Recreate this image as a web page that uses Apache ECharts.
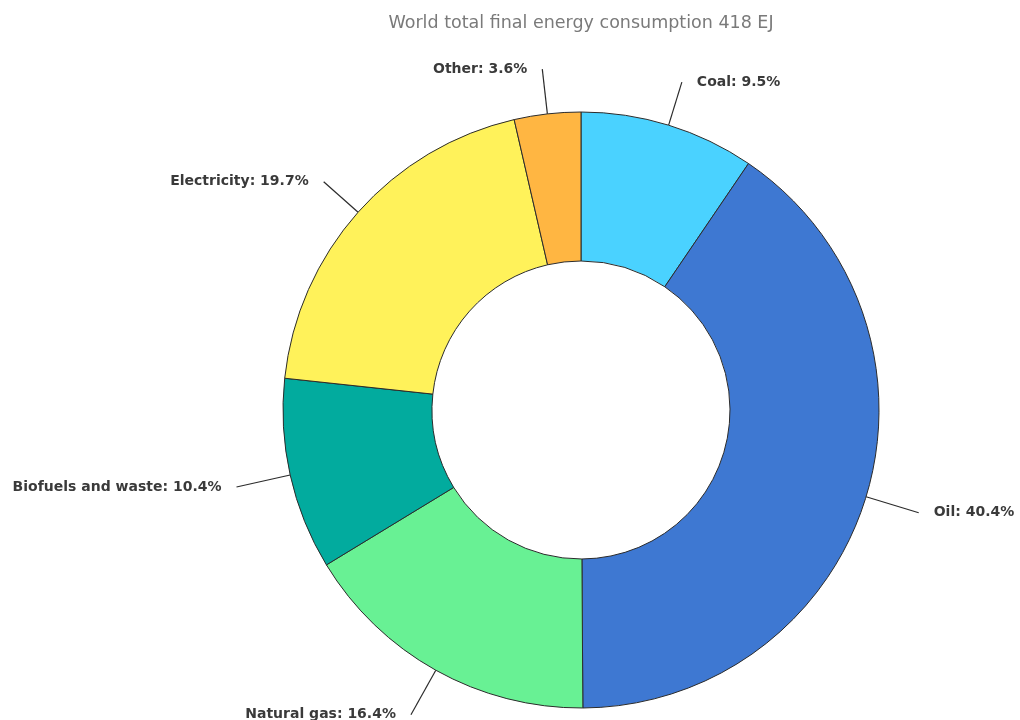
<!DOCTYPE html>
<html>
<head>
<meta charset="utf-8">
<script src="https://cdn.jsdelivr.net/npm/echarts@6/dist/echarts.min.js"></script>
<style>
  html, body { margin: 0; padding: 0; background: #ffffff; }
  #chart { width: 1020px; height: 720px; }
</style>
</head>
<body>
<div id="chart"></div>
<script>
// Shares of world total final energy consumption (%), clockwise from the top
const categories = ['Coal', 'Oil', 'Natural gas', 'Biofuels and waste', 'Electricity', 'Other'];
const shares = [9.5, 40.4, 16.4, 10.4, 19.7, 3.6];
const sliceColors = ['#4AD2FF', '#3E78D2', '#68F194', '#02AB9E', '#FFF25A', '#FFB642'];
const titleText = 'World total final energy consumption 418 EJ';

// Leader line length per slice (px), same order as categories
const leaderLengths = [45, 55, 51, 55, 46, 45];

const chart = echarts.init(document.getElementById('chart'), null, { renderer: 'canvas' });

const data = categories.map((name, i) => ({
  name: name,
  value: shares[i],
  itemStyle: { color: sliceColors[i] },
  labelLine: { length: leaderLengths[i] }
}));

chart.setOption({
  animation: false,
  title: {
    text: titleText,
    left: 576,
    textAlign: 'center',
    top: 9,
    textStyle: {
      fontFamily: '"DejaVu Sans", sans-serif',
      fontSize: 17.5,
      fontWeight: 'normal',
      color: '#7a7a7a'
    }
  },
  series: [{
    type: 'pie',
    center: [581, 410],
    radius: [149, 298],
    startAngle: 90,
    clockwise: true,
    avoidLabelOverlap: false,
    itemStyle: { borderColor: '#2b2b2b', borderWidth: 1 },
    label: {
      show: true,
      position: 'outside',
      formatter: (p) => p.name + ': ' + p.value.toFixed(1) + '%',
      fontFamily: '"DejaVu Sans", sans-serif',
      fontSize: 14,
      fontWeight: 'bold',
      color: '#3a3a3a',
      distanceToLabelLine: 15
    },
    labelLine: {
      show: true,
      length: 50,
      length2: 0,
      lineStyle: { color: '#2b2b2b', width: 1.2 }
    },
    emphasis: { disabled: true },
    data: data
  }]
});
</script>
</body>
</html>
